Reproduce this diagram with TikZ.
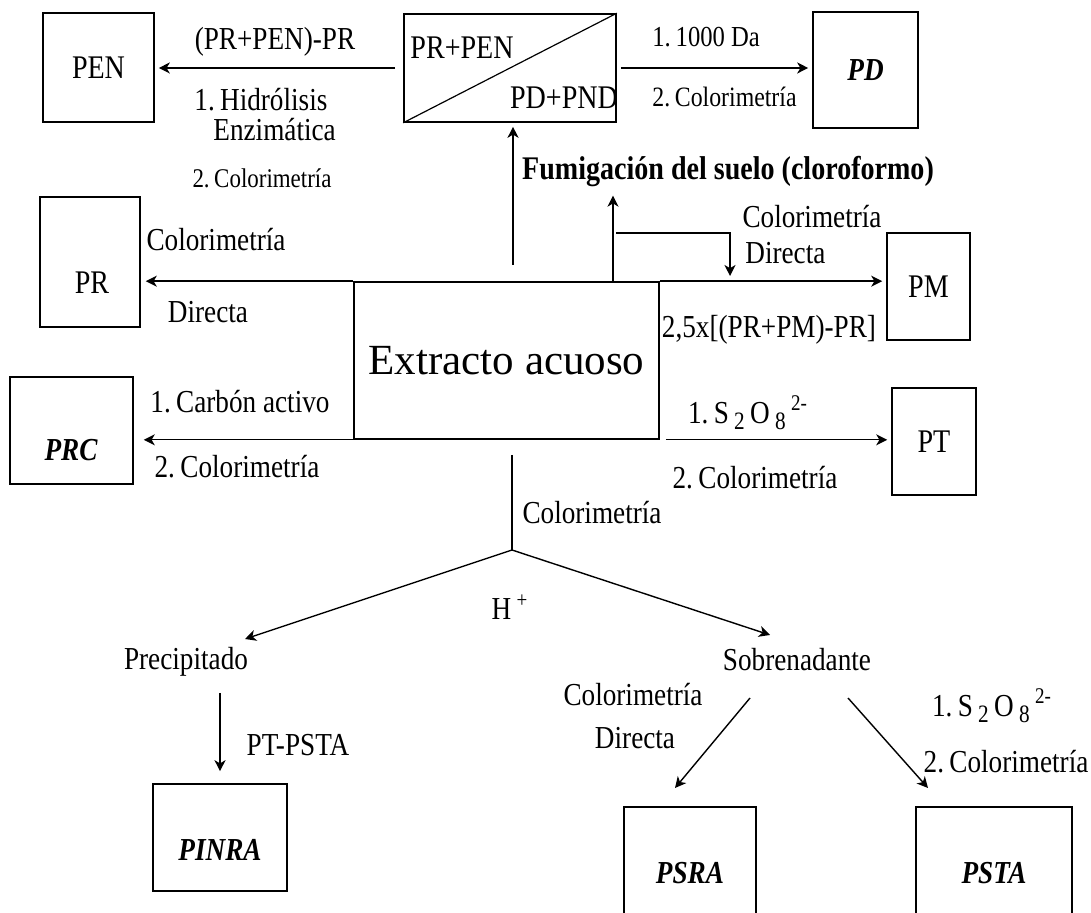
\documentclass[tikz,border=0pt]{standalone}
\usepackage{fontspec}
\setmainfont{Liberation Serif}[FakeStretch=0.85]
\newfontfamily\extfont{Liberation Serif}
\usetikzlibrary{arrows.meta,calc}
\newcommand{\lowdigit}[1]{\raisebox{-0.45ex}{\fontsize{12.5}{14}\selectfont #1}}
\tikzset{
  procbox/.style={
    draw=black,
    line width=0.8pt,
    inner sep=0pt,
    font=\fontsize{16.5}{19}\selectfont
  },
  resbox/.style={
    procbox,
    font=\fontsize{16}{19}\selectfont\bfseries\itshape
  },
  steptext/.style={
    inner sep=0pt,
    font=\fontsize{16}{19}\selectfont
  },
  flowline/.style={
    draw=black,
    line width=0.7pt
  },
  flowarrow/.style={
    flowline,
    -{Stealth[length=5.5pt,width=5.5pt,inset=1.6pt]}
  }
}

\begin{document}
\begin{tikzpicture}[x=0.5pt,y=-0.5pt]

  \clip (0,0) rectangle (1091,913);

  % Central aqueous extract.
  \node[procbox,minimum width=152.5pt,minimum height=78.5pt,
        font=\extfont\fontsize{21.5}{24}\selectfont] (extbox) at (506.5,360.5)
    {Extracto acuoso};

  % Split box for the fumigated fractions.
  \node[procbox,minimum width=106pt,minimum height=54pt] (splitbox) at (510,68) {};
  \draw[flowline,line width=0.6pt] (splitbox.south west) -- (splitbox.north east);
  \node[steptext,font=\fontsize{16.5}{19}\selectfont] (prpen) at (462,48) {PR+PEN};
  \node[steptext,font=\fontsize{16.5}{19}\selectfont] (pdpnd) at (564,98) {PD+PND};

  % Result boxes.
  \node[procbox,minimum width=55.5pt,minimum height=54.5pt] (penbox) at (98.5,67.5) {PEN};
  \node[resbox,minimum width=52.5pt,minimum height=58pt] (pdbox) at (865.5,70) {PD};
  \node[procbox,minimum width=50pt,minimum height=65pt] (prbox) at (90,262) {};
  \node[steptext,font=\fontsize{16.5}{19}\selectfont] (prlbl) at (92,283) {PR};
  \node[procbox,minimum width=61.5pt,minimum height=53.5pt] (prcbox) at (71.5,430.5) {};
  \node[steptext,font=\fontsize{16}{19}\selectfont\bfseries\itshape] (prclbl) at (71,450) {PRC};
  \node[procbox,minimum width=41.5pt,minimum height=53.5pt] (pmbox) at (928.5,286.5) {PM};
  \node[procbox,minimum width=42pt,minimum height=53.5pt] (ptbox) at (934,441.5) {PT};
  \node[procbox,minimum width=67pt,minimum height=53.5pt] (pinrabox) at (220,837.5) {};
  \node[steptext,font=\fontsize{16}{19}\selectfont\bfseries\itshape] (pinralbl) at (220,850) {PINRA};
  \node[resbox,minimum width=66pt,minimum height=66.5pt] (psrabox) at (690,873.5) {PSRA};
  \node[resbox,minimum width=78pt,minimum height=66.5pt] (pstabox) at (994,873.5) {PSTA};

  % Intermediate products.
  \node[steptext,font=\fontsize{16.5}{19}\selectfont\bfseries] (fum) at (728,172)
    {Fumigación del suelo (cloroformo)};
  \node[steptext] (prec) at (186,662) {Precipitado};
  \node[steptext] (sob) at (797,660) {Sobrenadante};

  % Upper connectors.
  \draw[flowarrow,shorten <=4pt,shorten >=2pt] (splitbox.west) -- (splitbox.west -| penbox.east);
  \draw[flowarrow,shorten <=2pt,shorten >=2pt] (splitbox.east) -- (splitbox.east -| pdbox.west);
  \coordinate (upL) at (513,265);
  \draw[flowarrow,shorten >=2pt] (upL) -- (upL |- splitbox.south);
  \coordinate (upR) at (613,282);
  \draw[flowarrow,shorten >=4pt] (upR) -- (upR |- fum.south);
  \coordinate (brS) at (616,233);
  \coordinate (brE) at (730,276);
  \draw[flowarrow] (brS) -| (brE);

  % Side connectors from the extract.
  \draw[flowarrow,shorten >=2pt] (extbox.north east) -- (extbox.north east -| pmbox.west);
  \draw[flowarrow,shorten >=2.5pt] (extbox.north west) -- (extbox.north west -| prbox.east);
  \draw[flowarrow,shorten >=5pt] (extbox.south west) -- (extbox.south west -| prcbox.east);
  \draw[flowarrow,shorten <=3pt,shorten >=2pt] (extbox.south east) -- (extbox.south east -| ptbox.west);

  % Acid separation below the extract.
  \coordinate (stem) at (512,455);
  \coordinate (fork) at (512,550);
  \coordinate (precIn) at (245,639);
  \coordinate (sobIn) at (770,635);
  \draw[flowline] (stem) -- (fork);
  \draw[flowarrow] (fork) -- (precIn);
  \draw[flowarrow] (fork) -- (sobIn);
  \draw[flowarrow,shorten <=8pt,shorten >=6pt] (pinrabox.north |- prec.south) -- (pinrabox.north);
  \coordinate (sobL) at (750,698);
  \coordinate (sobR) at (848,698);
  \coordinate (psraIn) at (675,788);
  \coordinate (pstaIn) at (928,788);
  \draw[flowarrow] (sobL) -- (psraIn);
  \draw[flowarrow] (sobR) -- (pstaIn);

  % Labels on the connectors.
  \node[steptext] (lpen) at (275,42) {(PR+PEN)-PR};
  \node[steptext,anchor=west] (lhid) at (194,100) {1.\,Hidrólisis};
  \node[steptext,anchor=west] (lenz) at (213,130) {Enzimática};
  \node[steptext,font=\fontsize{13.5}{16}\selectfont] (lcol1) at (262,178) {2.\,Colorimetría};
  \node[steptext,anchor=west,font=\fontsize{14.5}{17}\selectfont] (lda) at (652,37) {1.\,1000 Da};
  \node[steptext,anchor=west,font=\fontsize{14}{17}\selectfont] (lcol2) at (652,97) {2.\,Colorimetría};
  \node[steptext] (lcol3) at (812,217) {Colorimetría};
  \node[steptext,anchor=west] (ldir1) at (745,253) {Directa};
  \node[steptext] (lpm) at (769,330) {2,5x[(PR+PM)-PR]};
  \node[steptext] (lcol4) at (216,240) {Colorimetría};
  \node[steptext] (ldir2) at (208,312) {Directa};
  \node[steptext] (lcarb) at (240,402) {1.\,Carbón activo};
  \node[steptext] (lcol5) at (237,467) {2.\,Colorimetría};
  \node[steptext] (lso1) at (748,413)
    {1.\,S\,\lowdigit{2}\,O\,\lowdigit{8}\,\textsuperscript{2-}};
  \node[steptext] (lcol6) at (755,478) {2.\,Colorimetría};
  \node[steptext] (lcol7) at (592,513) {Colorimetría};
  \node[steptext] (lh) at (510,607) {H\,\textsuperscript{+}};
  \node[steptext] (lptp) at (298,745) {PT-PSTA};
  \node[steptext] (lcol8) at (633,695) {Colorimetría};
  \node[steptext] (ldir3) at (635,738) {Directa};
  \node[steptext] (lso2) at (992,706)
    {1.\,S\,\lowdigit{2}\,O\,\lowdigit{8}\,\textsuperscript{2-}};
  \node[steptext] (lcol9) at (1006,762) {2.\,Colorimetría};

\end{tikzpicture}
\end{document}
